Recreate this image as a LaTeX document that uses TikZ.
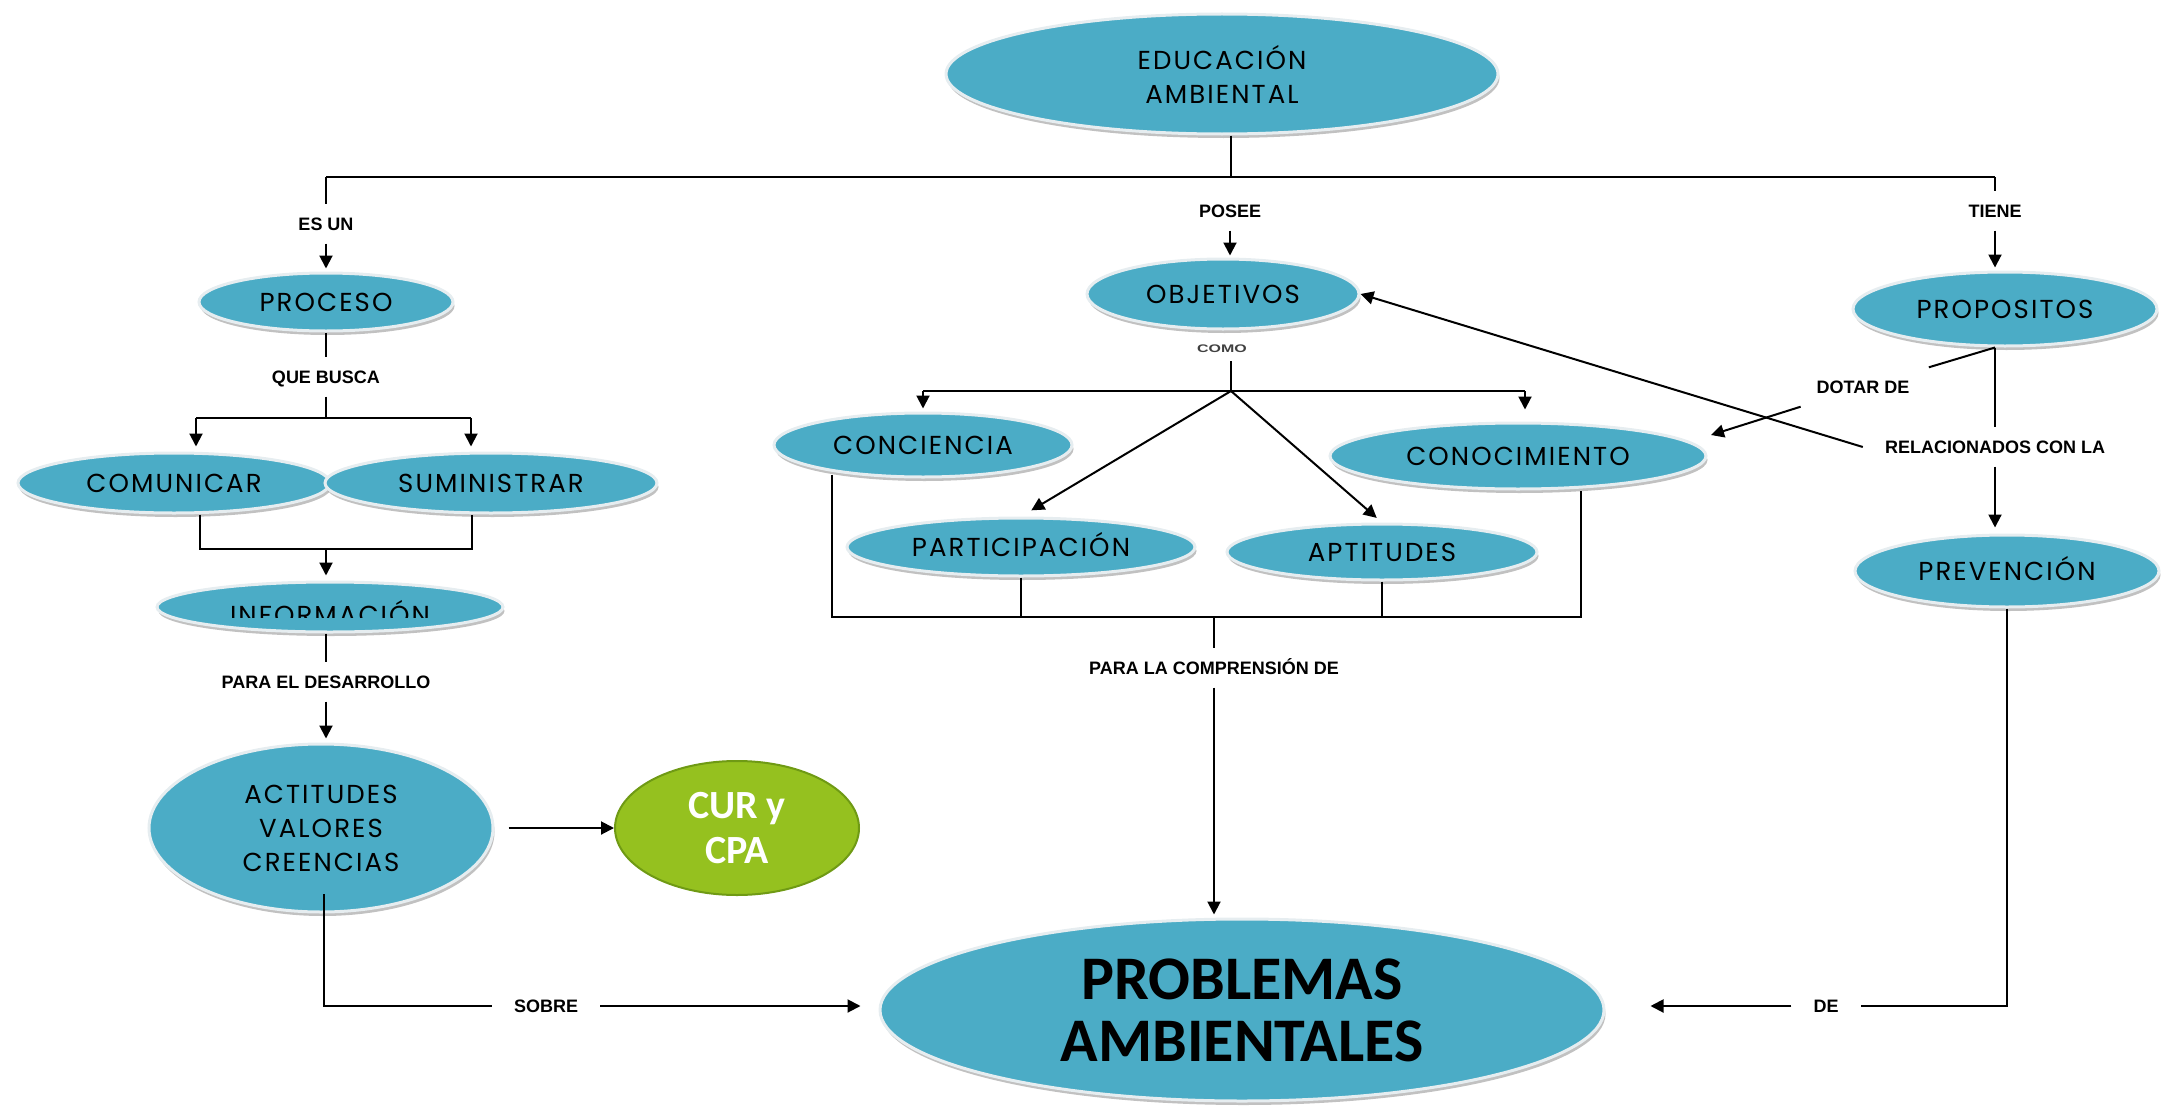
\documentclass[tikz,border=0pt]{standalone}
\usepackage{fontspec}
\setmainfont{Liberation Sans}
\newfontfamily\nodefont[LetterSpace=8]{Poppins}
\newfontfamily\bigfont{Carlito}
\usetikzlibrary{shapes.geometric,arrows.meta,shadows}
\definecolor{ebl}{HTML}{4BACC6}
\definecolor{rim}{HTML}{E6EDF0}
\definecolor{egr}{HTML}{95C11F}
\definecolor{egrd}{HTML}{6F9A14}
\begin{document}
\begin{tikzpicture}[x=1pt,y=-1pt,
  ell/.style={ellipse, draw=rim, line width=3pt, fill=ebl, inner sep=0pt,
    font=\nodefont\fontsize{26}{34}\selectfont, align=center,
    drop shadow={shadow xshift=1.5pt, shadow yshift=-4pt, fill=black!70, opacity=0.35}},
  one/.style={text height=18.5pt, text depth=0pt},
  etx/.style={font=\nodefont\fontsize{26}{34}\selectfont, text height=18.5pt, text depth=0pt, inner sep=0pt},
  grn/.style={ellipse, draw=egrd, line width=2pt, fill=egr, inner sep=0pt, text=white,
    font=\bigfont\bfseries\fontsize{40}{45}\selectfont, align=center},
  lbl/.style={font=\bfseries\fontsize{18}{18}\selectfont, text height=13pt, text depth=0pt,
    inner xsep=22pt, inner ysep=13pt},
  con/.style={line width=2pt, black},
  arr/.style={con, -{Triangle[length=13pt,width=13pt]}}
]
\useasboundingbox (0,0) rectangle (2164,1116);

% ---- ellipses
\node[ell, minimum width=552pt, minimum height=120pt] (edu) at (1222,74) {EDUCACIÓN\\AMBIENTAL};
\node[ell, one, minimum width=254pt, minimum height=58pt] (proceso) at (326,302) {PROCESO};
\node[ell, one, minimum width=312pt, minimum height=60pt] (comunicar) at (174,483) {COMUNICAR};
\node[ell, one, minimum width=332pt, minimum height=60pt] (suministrar) at (491,483) {SUMINISTRAR};
\node[ell, minimum width=346pt, minimum height=50pt] (informacion) at (330,607) {};
\begin{scope}
  \clip (150,590) rectangle (510,617);
  \node[etx] (tinformacion) at (330,615.5) {INFORMACIÓN};
\end{scope}
\node[ell, minimum width=344pt, minimum height=168pt] (actitudes) at (321,828) {ACTITUDES\\VALORES\\CREENCIAS};
\node[grn, minimum width=244pt, minimum height=134pt] (cur) at (737,828) {CUR y\\CPA};
\node[ell, minimum width=724pt, minimum height=182pt, font=\bigfont\bfseries\fontsize{62}{62}\selectfont] (problemas) at (1242,1010) {PROBLEMAS\\AMBIENTALES};
\node[ell, one, minimum width=272pt, minimum height=70pt] (objetivos) at (1223,294) {OBJETIVOS};
\node[ell, one, minimum width=298pt, minimum height=64pt] (conciencia) at (923,445) {CONCIENCIA};
\node[ell, one, minimum width=376pt, minimum height=66pt] (conocimiento) at (1518,456) {CONOCIMIENTO};
\node[ell, one, minimum width=348pt, minimum height=58pt] (participacion) at (1021,547) {PARTICIPACIÓN};
\node[ell, one, minimum width=310pt, minimum height=56pt] (aptitudes) at (1382,552) {APTITUDES};
\node[ell, one, minimum width=304pt, minimum height=74pt] (propositos) at (2005,309) {PROPOSITOS};
\node[ell, one, minimum width=304pt, minimum height=72pt] (prevencion) at (2007,571) {PREVENCIÓN};

% ---- link labels
\node[lbl] (lesun) at (326,224) {ES UN};
\node[lbl] (lposee) at (1230,211) {POSEE};
\node[lbl] (ltiene) at (1995,211) {TIENE};
\node[lbl] (lquebusca) at (326,377) {QUE BUSCA};
\node[lbl] (lpara) at (326,682) {PARA EL DESARROLLO};
\node[lbl] (lsobre) at (546,1006) {SOBRE};
\node[font=\bfseries\fontsize{11}{11}\selectfont, text=black!75, inner sep=0pt] (lcomo) at (1222,349) {\scalebox{1.45}[1]{COMO}};
\node[lbl] (lcomp) at (1214,668) {PARA LA COMPRENSIÓN DE};
\node[lbl] (ldotar) at (1863,387) {DOTAR DE};
\node[lbl] (lrel) at (1995,447) {RELACIONADOS CON LA};
\node[lbl] (lde) at (1826,1006) {DE};

% ---- junctions
\coordinate (busL) at (326,177);
\coordinate (busC) at (1231,177);
\coordinate (busR) at (1995,177);
\coordinate (jq) at (326,418);
\coordinate (jqL) at (196,418);
\coordinate (jqR) at (471,418);
\coordinate (jb) at (326,549);
\coordinate (jbL) at (200,549);
\coordinate (jbR) at (472,549);
\coordinate (s0) at (324,894);
\coordinate (jo) at (1231,391);
\coordinate (joL) at (923,391);
\coordinate (joR) at (1525,391);
\coordinate (bL) at (832,617);
\coordinate (bR) at (1581,617);
\coordinate (bC) at (1214,617);
\coordinate (tipD) at (1711,435);

% ---- connectors
\draw[con] (busC |- edu.south) -- (busC);
\draw[con] (busL) -- (busR);
\draw[con] (busL) -- (lesun.north);
\draw[arr, shorten >=3pt] (lesun.south) -- (proceso.north);
\draw[con] (proceso.south) -- (lquebusca.north);
\draw[con] (lquebusca.south) -- (jq);
\draw[con] (jqL) -- (jqR);
\draw[arr, shorten >=5pt] (jqL) -- (jqL |- comunicar.north);
\draw[arr, shorten >=5pt] (jqR) -- (jqR |- suministrar.north);
\draw[con] (jbL |- comunicar.south) -- (jbL) -- (jbR) -- (jbR |- suministrar.south);
\draw[arr, shorten >=5pt] (jb) -- (jb |- informacion.north);
\draw[con] (jb |- informacion.south) -- (lpara.north);
\draw[arr, shorten >=4pt] (lpara.south) -- (lpara.south |- actitudes.north);
\draw[arr, shorten <=14pt] (actitudes.east) -- (cur.west);
\draw[con] (s0) |- (lsobre.west);
\draw[arr, shorten >=18pt] (lsobre.east) -- (lsobre.east -| problemas.west);
\draw[arr, shorten >=2pt] (lposee.south) -- (lposee.south |- objetivos.north);
\draw[con, shorten <=8pt] (jo |- lcomo.south) -- (jo);
\draw[con] (joL) -- (joR);
\draw[arr, shorten >=3pt] (joL) -- (conciencia.north);
\draw[arr, shorten >=12pt] (joR) -- (joR |- conocimiento.north);
\draw[arr, shorten >=12pt] (jo) -- (participacion.north);
\draw[arr, shorten >=7pt] (jo) -- (aptitudes.north);
\draw[con, shorten <=-4pt] (bL |- conciencia.south) -- (bL) -- (bR) -- (bR |- conocimiento.south);
\draw[con] (participacion.south) -- (participacion.south |- bL);
\draw[con] (aptitudes.south) -- (aptitudes.south |- bL);
\draw[con] (bC) -- (bC |- lcomp.north);
\draw[arr, shorten >=3pt] (lcomp.south) -- (lcomp.south |- problemas.north);
\draw[con] (busR) -- (ltiene.north);
\draw[arr, shorten >=3pt] (ltiene.south) -- (ltiene.south |- propositos.north);
\draw[con] (lrel.north |- propositos.south) -- (lrel.north);
\draw[arr, shorten >=6pt] (lrel.south) -- (lrel.south |- prevencion.north);
\draw[con] (lrel.north |- propositos.south) -- (ldotar);
\draw[arr] (ldotar) -- (tipD);
\draw[arr] (lrel.west) -- (objetivos.east);
\draw[con] (prevencion.south) |- (lde.east);
\draw[arr, shorten >=45pt] (lde.west) -- (lde.west -| problemas.east);
\end{tikzpicture}
\end{document}
